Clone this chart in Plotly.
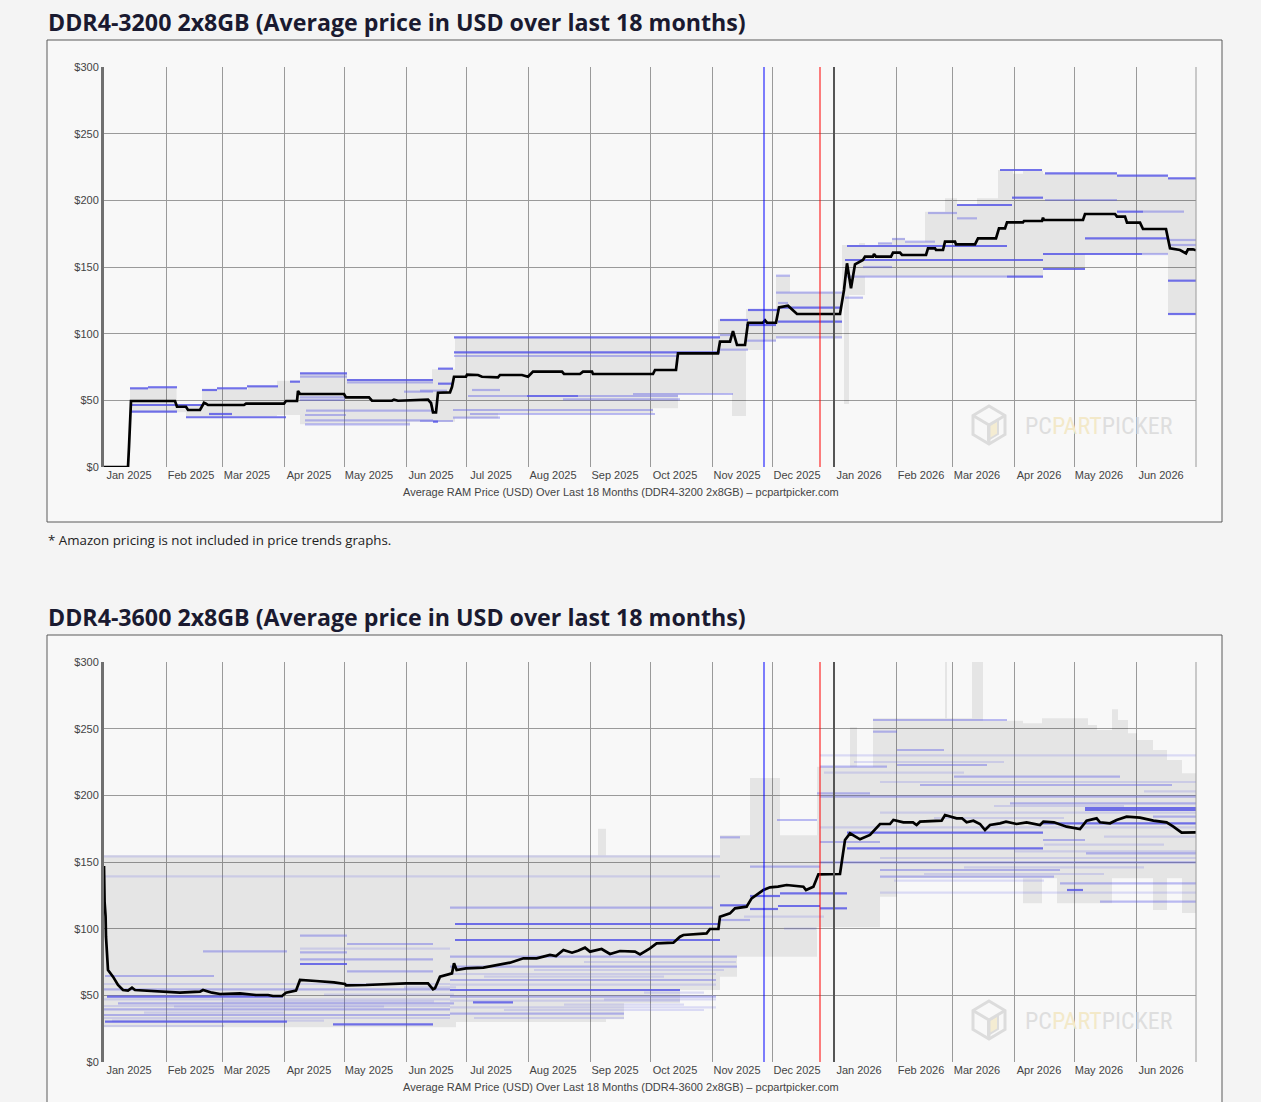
import pandas as pd
import plotly.graph_objects as go

W, H = 1261, 1102
ORIGIN = pd.Timestamp("2025-01-01")
X_END = pd.Timestamp("2026-07-01")

# ---------------- text ----------------
titles = [
    "DDR4-3200 2x8GB (Average price in USD over last 18 months)",
    "DDR4-3600 2x8GB (Average price in USD over last 18 months)",
]
x_titles = [
    "Average RAM Price (USD) Over Last 18 Months (DDR4-3200 2x8GB) – pcpartpicker.com",
    "Average RAM Price (USD) Over Last 18 Months (DDR4-3600 2x8GB) – pcpartpicker.com",
]
footnote = "* Amazon pricing is not included in price trends graphs."
month_labels = ["Jan 2025", "Feb 2025", "Mar 2025", "Apr 2025", "May 2025", "Jun 2025",
                "Jul 2025", "Aug 2025", "Sep 2025", "Oct 2025", "Nov 2025", "Dec 2025",
                "Jan 2026", "Feb 2026", "Mar 2026", "Apr 2026", "May 2026", "Jun 2026"]
y_ticks = [0, 50, 100, 150, 200, 250, 300]
y_tick_labels = ["$0", "$50", "$100", "$150", "$200", "$250", "$300"]
event_dates = ["2025-11-27", "2025-12-25", "2026-01-01"]
event_colors = ["#0000ff", "#ff0000", "#555555"]
event_widths = [1, 1, 2]

# ---------------- DDR4-3200 (days since 2025-01-01) ----------------
avg1_day = [0, 12, 12.5, 13, 13.5, 35.5, 36.5, 41, 42, 48, 50, 51, 52, 70, 71, 90, 91, 96.5, 97, 98,
            120, 121, 132.5, 134, 144, 145, 147, 162, 163.5, 164.5, 166, 167, 173, 174, 175, 181,
            181.5, 187, 189, 197, 198, 209, 212, 214.5, 229, 230, 238, 239.5, 244, 244.5, 274.5,
            275.5, 286, 287, 307, 308, 313, 314.5, 316.5, 320.5, 322, 329.5, 330.5, 331.5, 336,
            337.5, 342, 346.5, 368, 370, 371.5, 373.5, 375.5, 379.5, 380.5, 384.5, 385, 386, 393.5,
            394.5, 398, 399, 411, 412, 415.5, 416, 419.5, 420.5, 425.5, 426, 435.5, 437, 446, 447.5,
            450.5, 451.5, 459.5, 460, 469, 469.5, 470, 489.5, 490.5, 505.5, 506.5, 510.5, 511.5,
            518, 519.5, 531, 533, 538, 541, 542, 544.5, 546]
avg1_price = [0, 0, 15, 38, 49.5, 49.5, 45.2, 45.2, 42.75, 42.75, 48.2, 47.5, 46.5, 46.5, 47.5, 47.5,
              49.5, 49.5, 57, 54.75, 54.75, 52.2, 52.2, 49.7, 49.7, 50.5, 49.7, 50.5, 48, 41, 41,
              55.7, 56, 60, 67.7, 67.7, 69.2, 69, 67.7, 67.2, 69, 69, 67.7, 71.5, 71.5, 69.75, 69.75,
              71.5, 71.5, 69.75, 69.75, 72.75, 72.75, 85.25, 85.25, 94, 94, 102, 91.5, 91.5, 108.2,
              108.2, 110, 108.2, 108.2, 119.75, 121, 114.75, 114.75, 132.75, 152.75, 134, 152,
              155.25, 157.75, 157.75, 159.7, 157.75, 157.75, 160.75, 160.75, 159, 159, 164, 164,
              162.75, 162.75, 169, 169, 167, 167, 171.5, 171.5, 179, 179, 183.5, 183.5, 184.5, 184.5,
              187, 185.25, 185.25, 189.75, 189.75, 187.75, 187.75, 183.25, 183.25, 178.5, 178.5,
              164, 162.75, 160.25, 163.25, 163.25, 162.5]

band1_day = [13, 36.3, 41, 49, 72, 86.5, 98, 121.5, 153, 164, 175.5, 197, 274.5, 287, 307, 314,
             321, 330, 336, 343, 369, 370, 372.5, 377.5, 380.5, 387, 394, 400.5, 410.5, 420.5,
             426.5, 436.5, 447, 454.5, 459.5, 469.5, 490.5, 506.5, 532, 546]
band1_low = [41, 41, 37.7, 37.7, 38, 39, 32, 32, 34, 34, 36.5, 40.25, 44, 54.75, 55.25, 38.25,
             87.75, 94.75, 97.25, 97.25, 129, 47.25, 129, 129, 142.75, 142.75, 142.75, 142.75,
             142.75, 142.75, 142.75, 142.75, 142.75, 142.75, 142.75, 148.5, 159.75, 159.75,
             114.75, 114.75]
band1_high = [59, 47, 47, 58.2, 60.75, 64.75, 70.25, 65.75, 65.75, 73.25, 97.25, 97.25, 97.25,
              97.25, 110.75, 110.75, 118.25, 118.25, 143.5, 131, 166.5, 166.5, 166.5, 168, 166,
              168, 171.5, 169, 191.5, 201.5, 196.5, 201.5, 222.75, 220, 222, 220, 220, 218.5,
              216.5, 216.5]

# individual listings: start day, end day, price, shade (2 dark, 1 light, 0 faint)
seg1_start = [13, 22, 13, 13, 41, 49, 56.5, 71.5, 93, 98, 121.5, 52.5, 167, 167, 164.5, 175, 175,
              211.5, 308, 322, 321, 337, 337, 371.5, 370.5, 451.5, 469.5, 469.5, 490.5, 532, 532,
              448, 470.5, 506.5, 532, 426.5, 454, 506.5,
              98, 98, 101, 100.5, 100.5, 100.5, 121.5, 98, 150, 175, 158, 184, 264.5, 182, 237,
              229.5, 174.5, 183, 174.5, 158, 308, 308, 321, 336, 336, 336, 337, 370.5, 379.5, 387,
              394, 400.5, 412, 426.5, 470.5, 519.5, 532, 532, 519, 371.5]
seg1_end = [22, 36.5, 49, 36.5, 91, 56.5, 71.5, 87, 98, 121.5, 164.5, 64, 174.5, 174.5, 167, 308,
            308, 237, 322, 337, 336, 369, 369, 451.5, 469.5, 469.5, 519, 490.5, 532, 546, 546,
            469, 506.5, 532, 546, 454, 469.5, 519.5,
            120.5, 120.5, 164.5, 121, 164.5, 153, 164.5, 121.5, 164.5, 286.5, 171.5, 198, 314.5,
            211.5, 287, 288, 274.5, 275.5, 198, 174.5, 314.5, 322, 336, 369, 369, 343, 342, 379.5,
            394, 394, 400.5, 415.5, 426.5, 436.5, 506.5, 540, 546, 546, 532, 451.5]
seg1_price = [59, 59.8, 46.5, 41.5, 37.3, 57.75, 59, 60.5, 64, 70.25, 65.25, 39.75, 73.75, 62.5,
              34, 97.25, 86, 53.25, 110.25, 117.75, 106.5, 109, 119.5, 165.75, 155.25, 142.75,
              159.75, 148.5, 171.5, 139.75, 114.75, 222.75, 220.25, 218.5, 216.5, 196.5, 202, 191.5,
              50.25, 52.25, 42.3, 39, 35, 32, 63.5, 67.75, 56.5, 83.25, 57.25, 57.75, 54.75, 53.25,
              53.25, 50.75, 42.75, 39.75, 37, 34.5, 99, 88, 94.75, 97.25, 130.75, 143.5, 123, 127,
              150, 167.75, 171, 169, 190.5, 186.5, 200.25, 191.5, 170.25, 166.5, 159.75, 142.75]
seg1_shade = [2] * 38 + [1] * 40

# ---------------- DDR4-3600 ----------------
avg2_day = [0, 0.3, 0.8, 1, 2, 4.5, 7, 9.5, 12, 14, 15.5, 23, 31, 38, 48, 49.5, 54, 58, 68, 76, 82,
            84.5, 89, 91, 96, 98, 106, 115, 120.5, 121, 131, 141, 151, 162, 164.5, 165.5, 168, 174,
            175, 176.3, 181, 189.7, 198, 203, 209.7, 216.3, 223, 226, 229.7, 234, 237, 240.5, 243,
            248.8, 253, 258, 265.5, 268, 273, 276.3, 284.7, 288, 289.7, 301.3, 303, 307.2, 308,
            313, 315.5, 321.3, 323.8, 329.7, 333, 337, 341.3, 349.7, 351, 354.7, 357.2, 368, 370.5,
            373, 378, 383, 388, 393, 394.7, 399.7, 404.5, 406.3, 408, 418.8, 420.5, 426.3, 429,
            431.3, 434.7, 438, 440.5, 443, 448, 451, 456.3, 461.3, 468, 469.7, 475, 481.3, 488,
            491.3, 496.3, 498, 503, 506.3, 511.3, 518, 524.7, 531.3, 534.7, 538.8, 546]
avg2_price = [147, 120, 109, 94, 69, 64, 57.75, 54, 53.5, 55.75, 54, 53.5, 52.75, 52, 52.75, 54, 52,
              51, 51.5, 50.25, 50.25, 49.5, 49.5, 52, 53.5, 61.5, 60.75, 59.75, 58.5, 57.5, 57.75,
              58.5, 59, 59, 54.5, 55.25, 64, 66.5, 74, 69, 70.25, 70.75, 72.75, 74.5, 77.75, 77.75,
              80.25, 79.5, 84, 82, 83.5, 85.75, 82.75, 84.75, 81, 83.25, 82.75, 80.75, 85.25, 89,
              89.5, 94, 95.25, 96.5, 99.75, 99.75, 109, 111.5, 115.25, 116.5, 122.75, 129, 131,
              131.5, 132.75, 131.5, 129, 131.5, 140.75, 141, 166.5, 171.5, 167, 170.25, 178.5,
              178.5, 181.5, 179.75, 179.75, 177.75, 180.25, 181, 185.25, 182.75, 182.75, 179.75,
              181, 178.5, 174, 177.75, 179, 180.25, 178.5, 179.75, 177.75, 180.25, 179.75, 176.5,
              174.75, 181, 182.75, 179.75, 179, 181.5, 184, 183.25, 181, 179.75, 176.5, 172, 172.25]

band2_day = [0, 176, 247, 251, 260, 288, 308, 316.5, 323, 338, 356.5, 373, 376.5, 384.5, 388, 396.5,
             420.5, 421.5, 434, 439.5, 459.5, 469, 476.5, 492, 496.5, 504, 507, 512, 516.5, 524.5,
             531.5, 539, 546]
band2_low = [26, 30, 30, 32, 44, 54, 64, 79, 79, 79, 101, 101, 101, 101, 124, 137.75, 137.75, 137.75,
             137.75, 137.75, 119, 137.75, 119, 119, 119, 137.75, 137.75, 137.75, 137.75, 114, 137.75,
             111.75, 111.75]
band2_high = [155, 155, 175, 155, 155, 155, 170, 170, 213, 170, 221.5, 251, 221.5, 257.75, 257.75,
              257.75, 300, 257.75, 300, 256, 254, 257.75, 257.75, 252.75, 249, 264.5, 256.5, 246.5,
              241.5, 234, 226.5, 216.5, 216.5]

seg2_start = [175.5, 175.5, 1.5, 0.5, 114.5, 98, 173, 184.5, 308, 323, 338, 337, 323, 371.5, 371.5,
              469.5, 490.5, 490.5, 358, 481.5, 0, 0,
              173, 173, 173, 173, 173, 173, 49.5, 98, 121.5, 98, 98, 121.5, 0.5, 0, 7, 0, 0,
              308, 336.5, 356.5, 323, 308, 469.5, 358, 358, 358, 384.5, 384.5, 396.5, 396.5, 425,
              408, 453, 524.5, 491, 388, 388, 478, 498, 358,
              0, 0, 0, 0, 98, 173, 173, 173, 173, 388, 388, 388, 388, 358, 358,
              0, 4, 20, 35, 60, 110, 150, 185, 200, 230, 250, 270, 190, 215, 240,
              320, 340, 395, 410, 430, 455, 470, 500, 415, 445, 520, 360, 375]
seg2_end = [308, 308, 89.5, 91.5, 164.5, 121.5, 288, 204.5, 321.5, 338, 371.5, 358, 337, 469.5,
            469.5, 546, 546, 546, 371.5, 489.5, 308, 308,
            304.5, 316.5, 316.5, 306, 306, 260, 91.5, 121.5, 164.5, 121.5, 164.5, 164.5,
            55, 173, 175, 173, 173, 318, 356.5, 383, 358, 323, 490.5, 546, 546, 391.5, 451.5, 396.5,
            420, 441.5, 508, 534, 546, 546, 546, 478, 475, 546, 546, 388,
            173, 173, 173, 173, 173, 306, 306, 306, 288, 546, 546, 546, 546, 546, 546,
            60, 110, 90, 140, 165, 175, 176, 260, 300, 290, 306, 300, 280, 310, 316,
            360, 356, 470, 500, 520, 546, 530, 546, 480, 510, 546, 430, 450]
seg2_price = [103.5, 91.5, 49, 30.25, 28.25, 73.5, 54, 44.75, 117.5, 124.5, 126.5, 117, 114.75, 172,
              160.25, 179, 189, 190.5, 115.25, 129, 154.25, 139.25,
              115.75, 79, 71.5, 61.5, 49, 36.25, 83, 94.75, 88.5, 82.25, 77, 68,
              64.5, 54.5, 44, 39.5, 35.25, 168.5, 181.5, 201.5, 146.5, 106.5, 166.5, 149.75, 199,
              221.5, 256.5, 247.75, 234, 222.75, 214, 207.75, 194, 184, 156.5, 144, 139, 134, 120.25,
              165,
              58.5, 47, 42, 33, 85, 66, 58, 41, 46, 210, 187, 153, 127, 230, 176,
              27, 31, 37, 41.5, 45.5, 50.5, 56, 33, 39, 43, 47, 52, 64, 69, 75,
              109, 100, 136, 141, 146, 158, 163, 169, 183, 192, 203, 217, 225]
seg2_shade = [2] * 20 + [0] * 2 + [1] * 40 + [0] * 43

charts = [
    dict(avg_day=avg1_day, avg_price=avg1_price, band_day=band1_day, band_low=band1_low,
         band_high=band1_high, s0=seg1_start, s1=seg1_end, sp=seg1_price, ss=seg1_shade),
    dict(avg_day=avg2_day, avg_price=avg2_price, band_day=band2_day, band_low=band2_low,
         band_high=band2_high, s0=seg2_start, s1=seg2_end, sp=seg2_price, ss=seg2_shade),
]

# ---------------- helpers ----------------
def px(x):
    return x / W


def py(y):
    return 1 - y / H


def to_dates(days):
    return [None if d is None else ORIGIN + pd.Timedelta(days=float(d)) for d in days]


SHADE_COLORS = {2: "rgba(80,80,230,0.80)", 1: "rgba(90,90,230,0.40)", 0: "rgba(100,100,230,0.20)"}
FONT_AX = "Liberation Sans, Arial, sans-serif"
OFFSET = 595  # vertical distance between the two chart blocks (px)

fig = go.Figure()
month_starts = list(pd.date_range("2025-01-01", "2026-07-01", freq="MS"))
label_pos = [m + pd.Timedelta(days=12.5) for m in month_starts[:-1]]

for k, c in enumerate(charts):
    xa = "x" if k == 0 else "x2"
    ya = "y" if k == 0 else "y2"
    bx, by = [], []
    d, lo, hi = c["band_day"], c["band_low"], c["band_high"]
    for i in range(len(d) - 1):
        bx += [d[i], d[i + 1]]
        by += [hi[i], hi[i]]
    for i in range(len(d) - 2, -1, -1):
        bx += [d[i + 1], d[i]]
        by += [lo[i], lo[i]]
    fig.add_trace(go.Scatter(x=to_dates(bx), y=by, fill="toself", mode="lines",
                             line=dict(width=0), fillcolor="rgba(0,0,0,0.075)",
                             hoverinfo="skip", showlegend=False, xaxis=xa, yaxis=ya))
    for shade in (0, 1, 2):
        sx, sy = [], []
        for a, b, p, s in zip(c["s0"], c["s1"], c["sp"], c["ss"]):
            if s == shade:
                sx += [a, b, None]
                sy += [p, p, None]
        if sx:
            fig.add_trace(go.Scatter(x=to_dates(sx), y=sy, mode="lines",
                                     line=dict(color=SHADE_COLORS[shade], width=2.2),
                                     hoverinfo="skip", showlegend=False, xaxis=xa, yaxis=ya))
    fig.add_trace(go.Scatter(x=to_dates(c["avg_day"]), y=c["avg_price"], mode="lines",
                             line=dict(color="#000000", width=2.7),
                             showlegend=False, xaxis=xa, yaxis=ya))

# ---------------- axes ----------------
layout_axes = {}
for k in range(2):
    top, bot = 67 + k * OFFSET, 467 + k * OFFSET
    xname = "xaxis" if k == 0 else "xaxis2"
    yname = "yaxis" if k == 0 else "yaxis2"
    layout_axes[xname] = dict(
        domain=[px(104), px(1196)], range=[ORIGIN, X_END], type="date",
        anchor="y" if k == 0 else "y2", automargin=False,
        tickmode="array", tickvals=label_pos, ticktext=month_labels,
        showgrid=False, zeroline=False, showline=False, ticks="",
        tickfont=dict(family=FONT_AX, size=11, color="#444444"),
        minor=dict(tickmode="array", tickvals=month_starts, showgrid=True,
                   gridcolor="#9a9a9a", gridwidth=1, ticks=""),
        fixedrange=True,
    )
    layout_axes[yname] = dict(
        domain=[py(bot), py(top)], range=[0, 300], anchor="x" if k == 0 else "x2",
        automargin=False,
        tickmode="array", tickvals=y_ticks, ticktext=y_tick_labels,
        showgrid=True, gridcolor="#9a9a9a", gridwidth=1, zeroline=False,
        showline=True, linecolor="#707070", linewidth=3, ticks="",
        tickfont=dict(family=FONT_AX, size=11, color="#444444"),
        fixedrange=True,
    )

shapes = []
annotations = []
shapes.append(dict(type="rect", xref="paper", yref="paper", x0=px(47), x1=px(1222),
                   y0=py(522), y1=py(40), fillcolor="#f8f8f8",
                   line=dict(color="#5a5a5a", width=1), layer="below"))
shapes.append(dict(type="rect", xref="paper", yref="paper", x0=px(47), x1=px(1222),
                   y0=-0.02, y1=py(635), fillcolor="#f8f8f8",
                   line=dict(color="#5a5a5a", width=1), layer="below"))

for k in range(2):
    xr = "x" if k == 0 else "x2"
    yr = "y" if k == 0 else "y2"
    dy = k * OFFSET
    shapes.append(dict(type="line", xref=xr + " domain", yref=yr + " domain", x0=1, x1=1, y0=0,
                       y1=1, line=dict(color="#9a9a9a", width=1)))
    for dte, col, wd in zip(event_dates, event_colors, event_widths):
        shapes.append(dict(type="line", xref=xr, yref=yr + " domain", x0=dte, x1=dte, y0=0, y1=1,
                           line=dict(color=col, width=wd), layer="above"))
    cx, cy, r = 989, 425 + dy, 19
    hexa = [(cx, cy - r), (cx + 16, cy - r / 2), (cx + 16, cy + r / 2), (cx, cy + r),
            (cx - 16, cy + r / 2), (cx - 16, cy - r / 2)]
    path = "M " + " L ".join(f"{px(a):.5f},{py(b):.5f}" for a, b in hexa) + " Z"
    shapes.append(dict(type="path", xref="paper", yref="paper", path=path,
                       line=dict(color="#dcdcdc", width=3), layer="below"))
    face = [(cx - 1, cy + 1), (cx + 9, cy - 5), (cx + 9, cy + 9), (cx - 1, cy + 15)]
    path2 = "M " + " L ".join(f"{px(a):.5f},{py(b):.5f}" for a, b in face) + " Z"
    shapes.append(dict(type="path", xref="paper", yref="paper", path=path2,
                       fillcolor="#f4ecd2", line=dict(color="#dcdcdc", width=2), layer="below"))
    inner = [(cx - 16, cy - r / 2), (cx, cy), (cx + 16, cy - r / 2)]
    path3 = "M " + " L ".join(f"{px(a):.5f},{py(b):.5f}" for a, b in inner) + \
            f" M {px(cx):.5f},{py(cy):.5f} L {px(cx):.5f},{py(cy + r):.5f}"
    shapes.append(dict(type="path", xref="paper", yref="paper", path=path3,
                       line=dict(color="#dcdcdc", width=3), layer="below"))
    annotations.append(dict(
        xref="paper", yref="paper", x=px(1023), y=py(426 + dy), xanchor="left", yanchor="middle",
        showarrow=False,
        text="PC<span style='color:#f3e9c9'>PART</span>PICKER",
        font=dict(family="Liberation Sans Narrow, Roboto Condensed, Roboto, sans-serif",
                  size=24, color="#dedede")))
    annotations.append(dict(xref="paper", yref="paper", x=px(46), y=py(22 + dy), xanchor="left",
                            yanchor="middle", showarrow=False, text="<b>" + titles[k] + "</b>",
                            font=dict(family="Open Sans, Noto Sans, sans-serif", size=23.2,
                                      color="#1a1a30")))
    annotations.append(dict(xref="paper", yref="paper", x=px(621), y=py(492 + dy),
                            xanchor="center", yanchor="middle", showarrow=False,
                            text=x_titles[k],
                            font=dict(family=FONT_AX, size=11, color="#444444")))

annotations.append(dict(xref="paper", yref="paper", x=px(46), y=py(540), xanchor="left",
                        yanchor="middle", showarrow=False, text=footnote,
                        font=dict(family="Open Sans, Noto Sans, sans-serif", size=13.3,
                                  color="#222222")))

fig.update_layout(
    template="none",
    width=W, height=H, margin=dict(l=0, r=0, t=0, b=0, pad=0, autoexpand=False),
    paper_bgcolor="#f4f4f4", plot_bgcolor="#f8f8f8",
    showlegend=False, shapes=shapes, annotations=annotations,
    hovermode=False, **layout_axes,
)

fig.write_html(
    "out.html", config={"displayModeBar": False},
    post_script=("var gd=document.getElementById('{plot_id}');"
                 "gd.style.position='fixed';gd.style.top='0px';gd.style.left='0px';"
                 "document.body.style.margin='0';"
                 "document.documentElement.style.overflow='hidden';"))
